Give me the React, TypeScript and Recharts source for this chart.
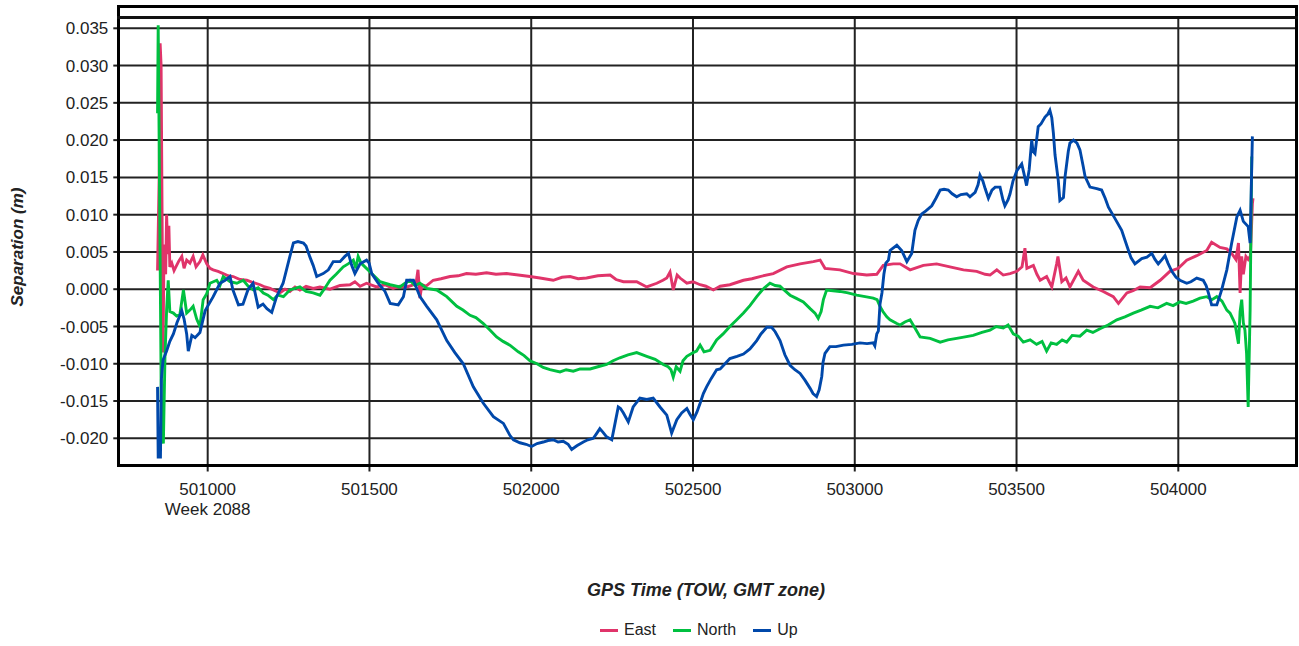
import React from 'react';
import { LineChart, Line, XAxis, YAxis, CartesianGrid } from 'recharts';

// GPS time of week (s) and separation (m)
const eastSeries: [number, number][] = [
  [500845, 0.0025], [500850, 0.015], [500853, 0.033], [500856, 0.03], [500859, 0.01], [500862, -0.0085],
  [500865, 0.006], [500870, 0.002], [500873, 0.01], [500877, 0.0047], [500880, 0.0085], [500883, 0.003],
  [500889, 0.0035], [500896, 0.0025], [500904, 0.0032], [500911, 0.0038], [500920, 0.0044], [500927, 0.0028],
  [500935, 0.0039], [500945, 0.0035], [500955, 0.0044], [500964, 0.003], [500976, 0.0037], [500985, 0.0046],
  [500997, 0.0034], [501007, 0.0028], [501017, 0.0026], [501032, 0.0024], [501048, 0.0021], [501063, 0.0018],
  [501079, 0.0017], [501100, 0.0013], [501121, 0.0012], [501140, 0.0009], [501162, 0.0006], [501177, 0.0003],
  [501193, 0.0001], [501208, -0.0002], [501223, -0.0005], [501239, 0.0], [501254, -0.0003], [501270, 0.0003],
  [501285, -0.0001], [501304, 0.0004], [501326, 0.0001], [501347, 0.0003], [501378, 0.0], [501409, 0.0005],
  [501440, 0.0006], [501455, 0.001], [501471, 0.0004], [501491, 0.0008], [501522, 0.0003], [501548, 0.0006],
  [501573, 0.0001], [501594, 0.0004], [501615, 0.0003], [501631, 0.0005], [501644, 0.0008], [501650, 0.0026],
  [501656, -0.0012], [501662, 0.0006], [501675, 0.0004], [501697, 0.0012], [501721, 0.0014], [501749, 0.0017],
  [501774, 0.0018], [501800, 0.0021], [501829, 0.002], [501862, 0.0022], [501891, 0.002], [501924, 0.0021],
  [501960, 0.0019], [501996, 0.0017], [502027, 0.0015], [502068, 0.0012], [502095, 0.0016], [502120, 0.0017],
  [502145, 0.0014], [502171, 0.0015], [502206, 0.0018], [502244, 0.0019], [502262, 0.0013], [502285, 0.001],
  [502326, 0.001], [502357, 0.0003], [502388, 0.0008], [502407, 0.0012], [502419, 0.0015], [502429, 0.0023],
  [502439, -0.0001], [502451, 0.0019], [502460, 0.0015], [502481, 0.0008], [502500, 0.001], [502522, 0.0006],
  [502540, 0.0004], [502563, -0.0001], [502584, 0.0004], [502614, 0.0006], [502656, 0.0012], [502682, 0.0014],
  [502707, 0.0017], [502748, 0.0021], [502790, 0.003], [502831, 0.0034], [502872, 0.0037], [502893, 0.0039],
  [502908, 0.0028], [502954, 0.0026], [502996, 0.0021], [503037, 0.0019], [503068, 0.002], [503088, 0.0032],
  [503119, 0.0034], [503140, 0.0034], [503171, 0.0026], [503212, 0.0032], [503253, 0.0034], [503294, 0.003],
  [503336, 0.0026], [503377, 0.0024], [503403, 0.002], [503418, 0.0019], [503439, 0.0026], [503459, 0.0019],
  [503480, 0.0021], [503501, 0.0024], [503517, 0.003], [503526, 0.0055], [503532, 0.0028], [503552, 0.0032],
  [503563, 0.002], [503573, 0.0012], [503593, 0.0017], [503609, 0.0003], [503624, 0.0034], [503628, 0.0044],
  [503640, 0.001], [503653, 0.0015], [503665, 0.0003], [503691, 0.0024], [503706, 0.0012], [503737, 0.0003],
  [503768, -0.0003], [503799, -0.001], [503815, -0.0019], [503841, -0.0005], [503860, -0.0002], [503882, 0.0003],
  [503913, 0.0002], [503944, 0.0012], [503974, 0.0024], [504000, 0.0028], [504026, 0.0039], [504057, 0.0045],
  [504088, 0.0052], [504103, 0.0063], [504129, 0.0056], [504150, 0.0054], [504165, 0.0048], [504178, 0.004],
  [504186, 0.0062], [504191, -0.0005], [504196, 0.0044], [504201, 0.002], [504209, 0.0044], [504216, 0.004],
  [504223, 0.0045], [504229, 0.0115], [504231, 0.0122],
];

const northSeries: [number, number][] = [
  [500845, 0.0236], [500847, 0.0354], [500853, 0.004], [500857, -0.018], [500863, -0.0207], [500868, -0.009],
  [500873, -0.0028], [500878, 0.0012], [500883, -0.003], [500894, -0.0032], [500904, -0.0036], [500914, -0.0034],
  [500925, -0.0001], [500935, -0.0032], [500945, -0.0028], [500955, -0.0023], [500966, -0.004], [500976, -0.005],
  [500986, -0.0014], [500997, -0.0006], [501007, 0.0008], [501028, 0.0012], [501038, 0.0005], [501048, 0.0017],
  [501069, 0.001], [501090, 0.0008], [501110, 0.0012], [501125, 0.0004], [501141, -0.0001], [501156, 0.0002],
  [501172, -0.0005], [501186, -0.0008], [501203, -0.0014], [501217, -0.0008], [501234, -0.001], [501254, -0.0001],
  [501270, 0.0001], [501285, 0.0003], [501304, -0.0003], [501326, -0.0005], [501347, -0.0008], [501363, 0.0002],
  [501378, 0.0012], [501397, 0.002], [501419, 0.003], [501434, 0.0034], [501450, 0.0039], [501458, 0.0028],
  [501465, 0.0044], [501474, 0.0035], [501486, 0.003], [501507, 0.0021], [501533, 0.001], [501548, 0.0008],
  [501564, 0.0006], [501594, 0.0003], [501610, 0.0008], [501625, 0.0012], [501641, 0.0005], [501656, 0.0008],
  [501677, 0.0001], [501708, -0.0001], [501739, -0.001], [501770, -0.0023], [501789, -0.0028], [501811, -0.0035],
  [501829, -0.0038], [501852, -0.0046], [501873, -0.0055], [501893, -0.0064], [501913, -0.007], [501934, -0.0075],
  [501960, -0.0084], [501978, -0.0089], [501996, -0.0096], [502018, -0.01], [502037, -0.0105], [502058, -0.0108],
  [502089, -0.0111], [502108, -0.0108], [502130, -0.011], [502151, -0.0107], [502182, -0.0107], [502206, -0.0104],
  [502233, -0.0101], [502253, -0.0096], [502274, -0.0092], [502299, -0.0088], [502326, -0.0085], [502357, -0.009],
  [502383, -0.0094], [502408, -0.0101], [502423, -0.0104], [502432, -0.0108], [502439, -0.0118], [502448, -0.0104],
  [502460, -0.011], [502469, -0.0096], [502481, -0.009], [502497, -0.0086], [502511, -0.0083], [502522, -0.0075],
  [502534, -0.0084], [502553, -0.0082], [502573, -0.0068], [502593, -0.006], [502614, -0.005], [502633, -0.0042],
  [502656, -0.0032], [502676, -0.0022], [502697, -0.001], [502716, 0.0], [502738, 0.0008], [502754, 0.0005],
  [502769, 0.0004], [502784, -0.0002], [502800, -0.0008], [502818, -0.0012], [502841, -0.0017], [502862, -0.0026],
  [502877, -0.0032], [502887, -0.0039], [502896, -0.003], [502903, -0.0014], [502913, -0.0001], [502933, -0.0002],
  [502954, -0.0003], [502979, -0.0005], [503006, -0.0008], [503032, -0.001], [503057, -0.0012], [503069, -0.0014],
  [503078, -0.0023], [503087, -0.003], [503099, -0.0037], [503109, -0.0041], [503130, -0.0046], [503140, -0.0048],
  [503155, -0.0044], [503171, -0.0041], [503186, -0.0052], [503202, -0.0064], [503233, -0.0066], [503264, -0.0071],
  [503288, -0.0068], [503315, -0.0066], [503341, -0.0064], [503366, -0.0062], [503393, -0.0058], [503418, -0.0055],
  [503437, -0.005], [503459, -0.0052], [503474, -0.0048], [503490, -0.006], [503505, -0.0063], [503521, -0.0071],
  [503542, -0.0068], [503562, -0.0074], [503579, -0.007], [503593, -0.0083], [503607, -0.0072], [503624, -0.0074],
  [503641, -0.0068], [503655, -0.0071], [503672, -0.0062], [503696, -0.0063], [503717, -0.0055], [503736, -0.0058],
  [503758, -0.0053], [503783, -0.0048], [503810, -0.0041], [503835, -0.0037], [503861, -0.0032], [503885, -0.0028],
  [503913, -0.0023], [503937, -0.0025], [503964, -0.0019], [503984, -0.0022], [504005, -0.0017], [504024, -0.0019],
  [504046, -0.0016], [504067, -0.0012], [504088, -0.001], [504104, -0.0014], [504119, -0.001], [504135, -0.0016],
  [504150, -0.0028], [504160, -0.0032], [504170, -0.0041], [504175, -0.0046], [504186, -0.0073], [504191, -0.003],
  [504196, -0.0014], [504201, -0.0045], [504206, -0.0055], [504211, -0.0086], [504216, -0.0158], [504222, -0.0028],
  [504225, 0.01], [504227, 0.0178],
];

const upSeries: [number, number][] = [
  [500845, -0.0131], [500847, -0.0225], [500854, -0.0225], [500857, -0.012], [500862, -0.0095], [500873, -0.0083],
  [500883, -0.007], [500894, -0.006], [500905, -0.0045], [500920, -0.0029], [500927, -0.004], [500935, -0.006],
  [500940, -0.0083], [500951, -0.0062], [500961, -0.0065], [500976, -0.0058], [500992, -0.0029], [501001, -0.0022],
  [501017, -0.001], [501038, 0.0008], [501054, 0.0012], [501069, 0.0017], [501078, -0.0001], [501095, -0.0021],
  [501109, -0.002], [501125, 0.0], [501140, 0.0008], [501156, -0.0024], [501171, -0.002], [501183, -0.0026],
  [501198, -0.0031], [501213, -0.001], [501233, 0.0008], [501254, 0.0044], [501265, 0.0062], [501279, 0.0064],
  [501296, 0.0062], [501304, 0.0058], [501316, 0.0043], [501326, 0.0032], [501337, 0.0017], [501347, 0.0019],
  [501357, 0.0021], [501373, 0.0026], [501388, 0.0037], [501409, 0.0037], [501424, 0.0044], [501435, 0.0048],
  [501445, 0.0032], [501455, 0.0021], [501471, 0.0034], [501491, 0.0039], [501499, 0.0035], [501507, 0.0021],
  [501527, 0.0008], [501548, -0.0003], [501564, -0.0019], [501589, -0.0021], [501605, -0.001], [501615, 0.0012],
  [501636, 0.0012], [501656, -0.001], [501677, -0.0023], [501708, -0.0041], [501739, -0.0069], [501764, -0.0085],
  [501790, -0.01], [501821, -0.0131], [501852, -0.0153], [501883, -0.0171], [501914, -0.018], [501934, -0.0196],
  [501945, -0.0202], [501965, -0.0206], [501984, -0.0208], [502001, -0.0211], [502018, -0.0207], [502037, -0.0205],
  [502052, -0.0203], [502068, -0.0202], [502083, -0.0205], [502099, -0.0204], [502114, -0.0208], [502125, -0.0215],
  [502141, -0.021], [502161, -0.0205], [502175, -0.0202], [502192, -0.02], [502203, -0.0193], [502212, -0.0187],
  [502222, -0.0192], [502233, -0.0198], [502249, -0.0202], [502259, -0.018], [502269, -0.0158], [502276, -0.016],
  [502285, -0.0166], [502300, -0.0178], [502315, -0.0158], [502336, -0.0146], [502357, -0.0148], [502377, -0.0146],
  [502398, -0.0158], [502419, -0.0169], [502426, -0.018], [502434, -0.0193], [502450, -0.0175], [502465, -0.0166],
  [502481, -0.016], [502491, -0.0168], [502501, -0.0175], [502512, -0.0165], [502522, -0.0153], [502532, -0.014],
  [502542, -0.0131], [502556, -0.012], [502573, -0.0108], [502584, -0.0107], [502599, -0.01], [502614, -0.0093],
  [502636, -0.009], [502656, -0.0087], [502676, -0.008], [502697, -0.0069], [502710, -0.006], [502728, -0.0051],
  [502743, -0.0051], [502754, -0.0057], [502769, -0.0069], [502784, -0.0088], [502800, -0.0102], [502815, -0.0108],
  [502831, -0.0113], [502846, -0.0122], [502862, -0.0133], [502871, -0.014], [502882, -0.0144], [502890, -0.0135],
  [502898, -0.0117], [502902, -0.0098], [502908, -0.0086], [502923, -0.0077], [502942, -0.0077], [502965, -0.0075],
  [502991, -0.0074], [503016, -0.0072], [503038, -0.0073], [503057, -0.0072], [503062, -0.0076], [503068, -0.006],
  [503073, -0.0056], [503078, -0.002], [503084, -0.0005], [503090, 0.002], [503096, 0.0035], [503104, 0.0039],
  [503109, 0.0052], [503130, 0.0059], [503145, 0.0052], [503161, 0.0037], [503176, 0.0048], [503186, 0.0079],
  [503196, 0.0092], [503207, 0.0101], [503220, 0.0105], [503238, 0.0112], [503251, 0.0122], [503264, 0.0133],
  [503276, 0.0134], [503289, 0.0133], [503301, 0.0128], [503315, 0.0124], [503328, 0.0127], [503346, 0.0128],
  [503356, 0.0124], [503372, 0.013], [503381, 0.014], [503387, 0.0153], [503396, 0.0145], [503403, 0.0135],
  [503413, 0.0122], [503424, 0.0133], [503434, 0.0137], [503449, 0.0137], [503458, 0.012], [503464, 0.0112],
  [503474, 0.012], [503480, 0.0128], [503489, 0.0145], [503501, 0.0159], [503516, 0.0168], [503523, 0.0155],
  [503531, 0.0139], [503539, 0.016], [503547, 0.02], [503551, 0.0185], [503557, 0.0182], [503567, 0.0218],
  [503576, 0.0222], [503588, 0.0231], [503597, 0.0235], [503603, 0.024], [503609, 0.023], [503614, 0.0209],
  [503619, 0.018], [503629, 0.0146], [503634, 0.0119], [503645, 0.0123], [503650, 0.0151], [503660, 0.0185],
  [503665, 0.0196], [503676, 0.02], [503687, 0.0196], [503696, 0.0187], [503706, 0.0165], [503712, 0.0151],
  [503727, 0.0137], [503748, 0.0135], [503763, 0.0133], [503774, 0.0122], [503784, 0.011], [503804, 0.0095],
  [503825, 0.0079], [503835, 0.0066], [503846, 0.0052], [503854, 0.0042], [503866, 0.0034], [503887, 0.0041],
  [503903, 0.0043], [503918, 0.0048], [503928, 0.004], [503938, 0.0034], [503950, 0.004], [503959, 0.0045],
  [503968, 0.0035], [503980, 0.0024], [503993, 0.0016], [504005, 0.0012], [504026, 0.0008], [504039, 0.001],
  [504057, 0.0015], [504077, 0.0012], [504086, 0.0005], [504093, -0.0005], [504103, -0.0021], [504119, -0.0021],
  [504126, -0.0012], [504134, -0.0001], [504150, 0.0026], [504165, 0.0062], [504181, 0.0097], [504191, 0.0106],
  [504201, 0.0091], [504216, 0.0084], [504222, 0.0062], [504227, 0.0165], [504229, 0.0205],
];

const xTicks = [501000, 501500, 502000, 502500, 503000, 503500, 504000];
const yTicks = [-0.02, -0.015, -0.01, -0.005, 0, 0.005, 0.01, 0.015, 0.02, 0.025, 0.03, 0.035];
const weekLabel = 'Week 2088';

const series = [
  { name: 'East', color: '#e0346a', points: eastSeries },
  { name: 'North', color: '#00c040', points: northSeries },
  { name: 'Up', color: '#0048aa', points: upSeries },
];

const FONT = '"Liberation Sans", Arial, sans-serif';

const XTick = ({ x, payload }: any) => (
  <g>
    <text x={x} y={495} textAnchor="middle" fontSize={17} fill="#222" fontFamily={FONT}>
      {payload.value}
    </text>
    {payload.value === xTicks[0] && (
      <text x={x} y={515} textAnchor="middle" fontSize={17} fill="#222" fontFamily={FONT}>
        {weekLabel}
      </text>
    )}
  </g>
);

export default function App() {
  return (
    <div style={{ position: 'absolute', left: 0, top: 0, width: 1299, height: 646, background: '#fff', fontFamily: FONT }}>
      <LineChart width={1299} height={520} margin={{ top: 17.5, right: 3, left: 0, bottom: 0 }}>
        <CartesianGrid stroke="#222" strokeWidth={2} />
        <XAxis
          type="number"
          dataKey="t"
          domain={[500723.7, 504363.8]}
          allowDataOverflow
          ticks={xTicks}
          height={54.5}
          axisLine={false}
          tickSize={6}
          tickLine={{ stroke: '#222', strokeWidth: 2 }}
          tick={<XTick />}
          interval={0}
        />
        <YAxis
          type="number"
          dataKey="v"
          domain={[-0.023649, 0.036449]}
          allowDataOverflow
          ticks={yTicks}
          width={118.3}
          axisLine={false}
          tickSize={5}
          tickMargin={5}
          tickLine={{ stroke: '#222', strokeWidth: 2 }}
          tick={{ fontSize: 17, fill: '#222', fontFamily: FONT }}
          tickFormatter={(v: number) => v.toFixed(3)}
          interval={0}
        />
        {series.map((s) => (
          <Line
            key={s.name}
            data={s.points.map(([t, v]) => ({ t, v }))}
            dataKey="v"
            name={s.name}
            type="linear"
            stroke={s.color}
            strokeWidth={2.9}
            strokeLinejoin="miter"
            dot={false}
            isAnimationActive={false}
          />
        ))}
      </LineChart>

      {/* outer frame and the line under its top edge */}
      <div style={{ position: 'absolute', left: 117, top: 5, width: 1181, height: 462, border: '3px solid #000', boxSizing: 'border-box' }} />
      <div style={{ position: 'absolute', left: 117, top: 16.3, width: 1181, height: 2.4, background: '#111' }} />

      <div
        style={{
          position: 'absolute', left: 18, top: 247, transform: 'translate(-50%, -50%) rotate(-90deg)',
          whiteSpace: 'nowrap', fontSize: 17, fontWeight: 'bold', fontStyle: 'italic', color: '#222',
        }}
      >
        Separation (m)
      </div>
      <div
        style={{
          position: 'absolute', left: 706, top: 590, transform: 'translate(-50%, -50%)',
          whiteSpace: 'nowrap', fontSize: 18, fontWeight: 'bold', fontStyle: 'italic', color: '#222',
        }}
      >
        GPS Time (TOW, GMT zone)
      </div>

      <div style={{ position: 'absolute', left: 600, top: 620, display: 'flex', alignItems: 'center', fontSize: 16, color: '#222' }}>
        {series.map((s) => (
          <div key={s.name} style={{ display: 'flex', alignItems: 'center', marginRight: 17, height: 20 }}>
            <span style={{ display: 'inline-block', width: 18, height: 3, background: s.color, marginRight: 6 }} />
            <span>{s.name}</span>
          </div>
        ))}
      </div>
    </div>
  );
}
